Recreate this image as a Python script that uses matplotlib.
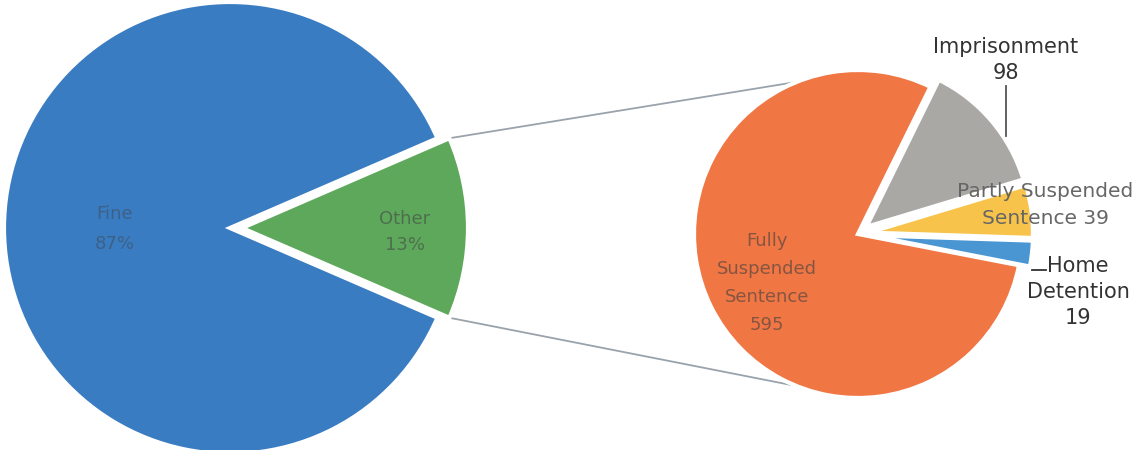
import numpy as np
import matplotlib.pyplot as plt

# main pie (percent labels as printed)
main_labels = ['Other', 'Fine']
main_pct = [13, 87]
main_colors = ['#5ea85c', '#3a7cc2']

# breakdown of "Other"
sub_labels = ['Home Detention', 'Partly Suspended Sentence', 'Imprisonment', 'Fully Suspended Sentence']
sub_counts = [19, 39, 98, 595]
sub_colors = ['#4a96d2', '#f8c34a', '#aaa8a5', '#f07644']

W, H = 1139, 450
fig = plt.figure(figsize=(W / 100, H / 100), dpi=100)
ax = fig.add_axes([0, 0, 1, 1])

# left pie (explode is in data units = px here)
c1 = (230, 222)
r1 = 226
half = main_pct[0] / sum(main_pct) * 360 / 2
off = 12
ax.pie(main_pct, colors=main_colors, startangle=-half, counterclock=True,
       center=c1, radius=r1, explode=[off, 0],
       wedgeprops=dict(edgecolor='white', linewidth=3))

# right pie
c2 = (858, 216)
r2 = 164
ax.pie(sub_counts, colors=sub_colors, startangle=-11, counterclock=True,
       center=c2, radius=r2, explode=[11, 11, 11, 0],
       wedgeprops=dict(edgecolor='white', linewidth=3))

# connector lines
for s in (1, -1):
    a = np.radians(s * half)
    x0 = c1[0] + off + r1 * np.cos(a)
    y0 = c1[1] + r1 * np.sin(a)
    b = np.radians(s * 112)
    x1 = c2[0] + r2 * np.cos(b)
    y1 = c2[1] + r2 * np.sin(b)
    ax.plot([x0, x1], [y0, y1], color='#9aa3ab', lw=1.3, zorder=0)

# labels inside slices
ax.text(115, H - 229, f"{main_labels[1]}\n{main_pct[1]}%", ha='center', va='center',
        fontsize=13, color='#404040', alpha=0.45, linespacing=1.9)
ax.text(405, H - 232, f"{main_labels[0]}\n{main_pct[0]}%", ha='center', va='center',
        fontsize=13, color='#404040', alpha=0.55, linespacing=1.6)
ax.text(767, H - 283, f"Fully\nSuspended\nSentence\n{sub_counts[3]}", ha='center', va='center',
        fontsize=13, color='#404040', alpha=0.6, linespacing=1.7)

# outside labels
ax.text(1006, H - 60, f"Imprisonment\n{sub_counts[2]}", ha='center', va='center',
        fontsize=15, color='#333333', linespacing=1.4)
ax.plot([1006, 1006], [H - 86, H - 136], color='#555555', lw=1.3)
ax.text(1045, H - 205, f"Partly Suspended\nSentence {sub_counts[1]}", ha='center', va='center',
        fontsize=14.5, color='#666666', linespacing=1.5)
ax.text(1078, H - 292, f"Home\nDetention\n{sub_counts[0]}", ha='center', va='center',
        fontsize=15, color='#333333', linespacing=1.35)
ax.plot([1032, 1046], [H - 270, H - 270], color='#333333', lw=1.3)

ax.set_xlim(0, W)
ax.set_ylim(0, H)
ax.set_aspect('auto')
ax.axis('off')
fig.savefig('out.png', dpi=100)
